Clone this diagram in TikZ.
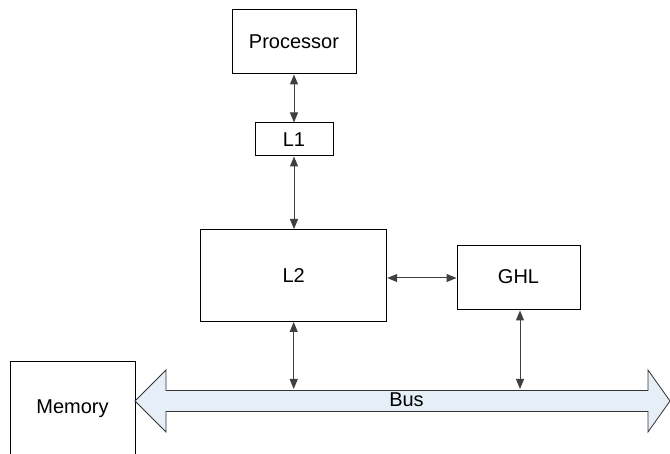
\documentclass[tikz,border=0pt]{standalone}
\usepackage{fontspec}
\setmainfont{Liberation Sans}
\usetikzlibrary{arrows.meta}
\definecolor{busfill}{HTML}{E6EEF8}
\begin{document}
\begin{tikzpicture}[x=1pt,y=-1pt,
  block/.style={draw=black,line width=1pt,fill=white,inner sep=0pt,
    font=\fontsize{20}{24}\selectfont},
  link/.style={draw=black!75,line width=1pt,
    {Triangle[width=8pt,length=10pt]}-{Triangle[width=8pt,length=10pt]}}]
\useasboundingbox (0,0) rectangle (670,454);

% cache hierarchy
\node[block,minimum width=124pt,minimum height=64pt] (proc) at (294,42) {Processor};
\node[block,minimum width=78pt,minimum height=33pt] (l1) at (294,139.5) {L1};
\node[block,minimum width=186pt,minimum height=92pt] (l2) at (293.7,275.5) {L2};
\node[block,minimum width=123pt,minimum height=64pt] (ghl) at (518.5,278) {\raisebox{2.5pt}{GHL}};
\node[block,minimum width=125pt,minimum height=94pt] (mem) at (72.5,409) {Memory};

% bus: double-headed block arrow
\draw[line width=0.8pt,draw=black!80,fill=busfill]
  (135,401) -- (166,370) -- (166,390.5) -- (648,390.5) -- (648,370)
  -- (670,401) -- (648,432) -- (648,411.5) -- (166,411.5) -- (166,432) -- cycle;
\node[font=\fontsize{20}{24}\selectfont,inner sep=0pt] (bus) at (406.5,400) {Bus};

% attachment points on the bus
\coordinate (busL2) at (293.7,389);
\coordinate (busGHL) at (520,389);

% connections
\draw[link] (proc.south) -- (l1.north);
\draw[link] (l1.south) -- (l2.north -| l1.south);
\draw[link] (l2.south) -- (busL2);
\draw[link] (l2.east |- ghl.west) -- (ghl.west);
\draw[link] (ghl.south -| busGHL) -- (busGHL);
\end{tikzpicture}
\end{document}
